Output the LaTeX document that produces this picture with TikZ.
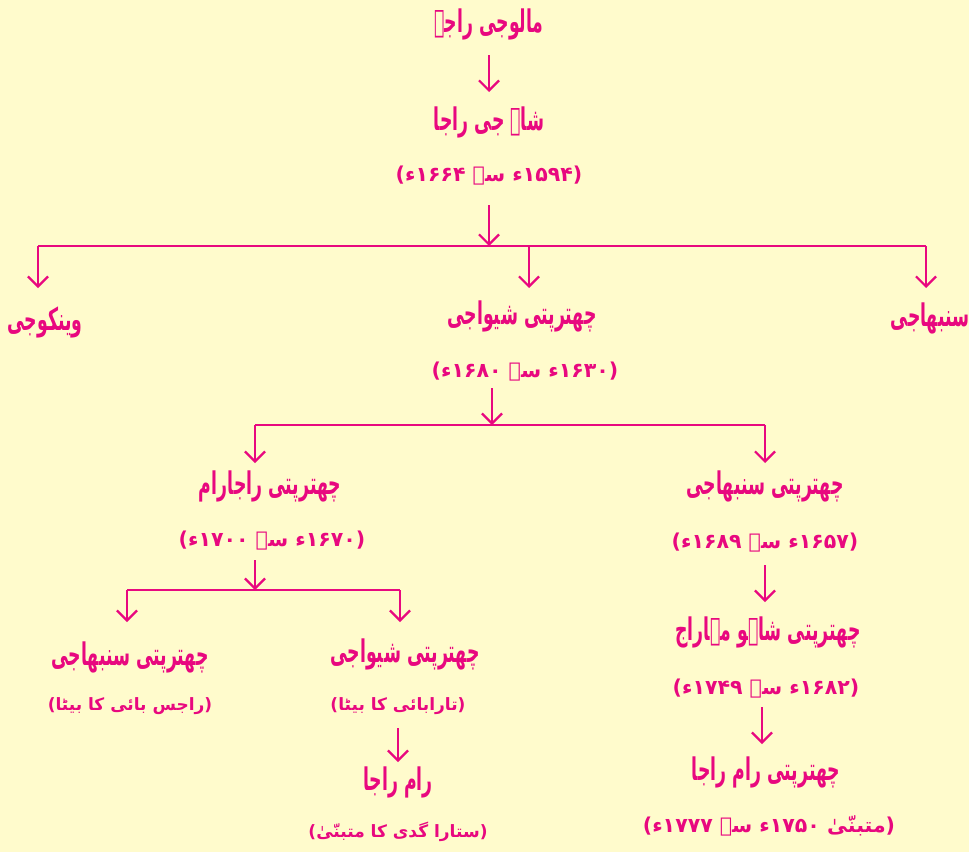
\documentclass[tikz,border=0pt]{standalone}
\usepackage{fontspec}
\usepackage{graphicx}
\TeXXeTstate=1
\newfontface\urdubold[Script=Arabic,FakeStretch=0.72]{DejaVu Sans Bold}
\newfontface\urdudate[Script=Arabic]{DejaVu Sans Bold}
\newcommand{\nmtext}[1]{\scalebox{1}[1.3]{\beginR #1\endR}}
\newcommand{\rtltext}[1]{\beginR #1\endR}
\usetikzlibrary{arrows.meta}
\definecolor{bg}{HTML}{FFFBCC}
\definecolor{ink}{HTML}{E8087F}
\begin{document}
\begin{tikzpicture}[x=1pt,y=-1pt,
  person/.style={text=ink,font=\urdubold\fontsize{24}{28}\selectfont,inner sep=0pt},
  datebox/.style={text=ink,font=\urdudate\fontsize{20.5}{24}\selectfont,inner sep=0pt},
  notebox/.style={text=ink,font=\urdudate\fontsize{17}{20}\selectfont,inner sep=0pt},
  link/.style={draw=ink,line width=2.2pt},
  arr/.style={link,-{Straight Barb[length=10pt,width=20pt]}}]
\fill[bg] (0,0) rectangle (969,852);
\useasboundingbox (0,0) rectangle (969,852);
% nodes
\node[person] (a) at (489,24) {\nmtext{مالوجی راجے}};
\node[person] (b) at (489,122) {\nmtext{شاہ جی راجا}};
\node[datebox] (bd) at (489,176) {\rtltext{(۱۵۹۴ء سے ۱۶۶۴ء)}};
\node[person] (c1) at (45,322) {\nmtext{وینکوجی}};
\node[person] (c2) at (522,316) {\nmtext{چھترپتی شیواجی}};
\node[datebox] (c2d) at (525,372) {\rtltext{(۱۶۳۰ء سے ۱۶۸۰ء)}};
\node[person] (c3) at (930,318) {\nmtext{سنبھاجی}};
\node[person] (e1) at (270,486) {\nmtext{چھترپتی راجارام}};
\node[datebox] (e1d) at (272,541) {\rtltext{(۱۶۷۰ء سے ۱۷۰۰ء)}};
\node[person] (e2) at (765,486) {\nmtext{چھترپتی سنبھاجی}};
\node[datebox] (e2d) at (765,543) {\rtltext{(۱۶۵۷ء سے ۱۶۸۹ء)}};
\node[person] (f1) at (130,657) {\nmtext{چھترپتی سنبھاجی}};
\node[notebox] (f1d) at (130,706) {\rtltext{(راجس بائی کا بیٹا)}};
\node[person] (f2) at (405,654) {\nmtext{چھترپتی شیواجی}};
\node[notebox] (f2d) at (398,706) {\rtltext{(تارابائی کا بیٹا)}};
\node[person] (g) at (398,782) {\nmtext{رام راجا}};
\node[notebox] (gd) at (398,832) {\rtltext{(ستارا گدی کا متبنّیٰ)}};
\node[person] (h) at (768,632) {\nmtext{چھترپتی شاہو مہاراج}};
\node[datebox] (hd) at (766,689) {\rtltext{(۱۶۸۲ء سے ۱۷۴۹ء)}};
\node[person] (i) at (766,772) {\nmtext{چھترپتی رام راجا}};
\node[datebox] (id) at (769,826) {\rtltext{(متبنّیٰ ۱۷۵۰ء سے ۱۷۷۷ء)}};
% junctions
\coordinate (j1) at (489,246);
\coordinate (j1l) at (38,246);
\coordinate (j1m) at (529,246);
\coordinate (j1r) at (926,246);
\coordinate (j2) at (492,425);
\coordinate (j2l) at (255,425);
\coordinate (j2r) at (765,425);
\coordinate (j3) at (255,590);
\coordinate (j3l) at (127,590);
\coordinate (j3r) at (400,590);
% connectors
\draw[arr] (a.south |- 0,55) -- (b.north |- 0,92);
\draw[arr] (j1 |- 0,205) -- (j1);
\draw[link] (j1l) -- (j1r);
\draw[arr] (j1l) -- (j1l |- 0,288);
\draw[arr] (j1m) -- (j1m |- 0,288);
\draw[arr] (j1r) -- (j1r |- 0,288);
\draw[arr] (j2 |- 0,388) -- (j2);
\draw[link] (j2l) -- (j2r);
\draw[arr] (j2l) -- (j2l |- 0,463);
\draw[arr] (j2r) -- (j2r |- 0,463);
\draw[arr] (j3 |- 0,560) -- (j3);
\draw[link] (j3l) -- (j3r);
\draw[arr] (j3l) -- (j3l |- 0,622);
\draw[arr] (j3r) -- (j3r |- 0,622);
\draw[arr] (g.north |- 0,728) -- (g.north |- 0,762);
\draw[arr] (e2d.south |- 0,565) -- (e2.north |- 0,602);
\draw[arr] (762,707) coordinate (hs) -- (hs |- 0,744);
\end{tikzpicture}
\end{document}
